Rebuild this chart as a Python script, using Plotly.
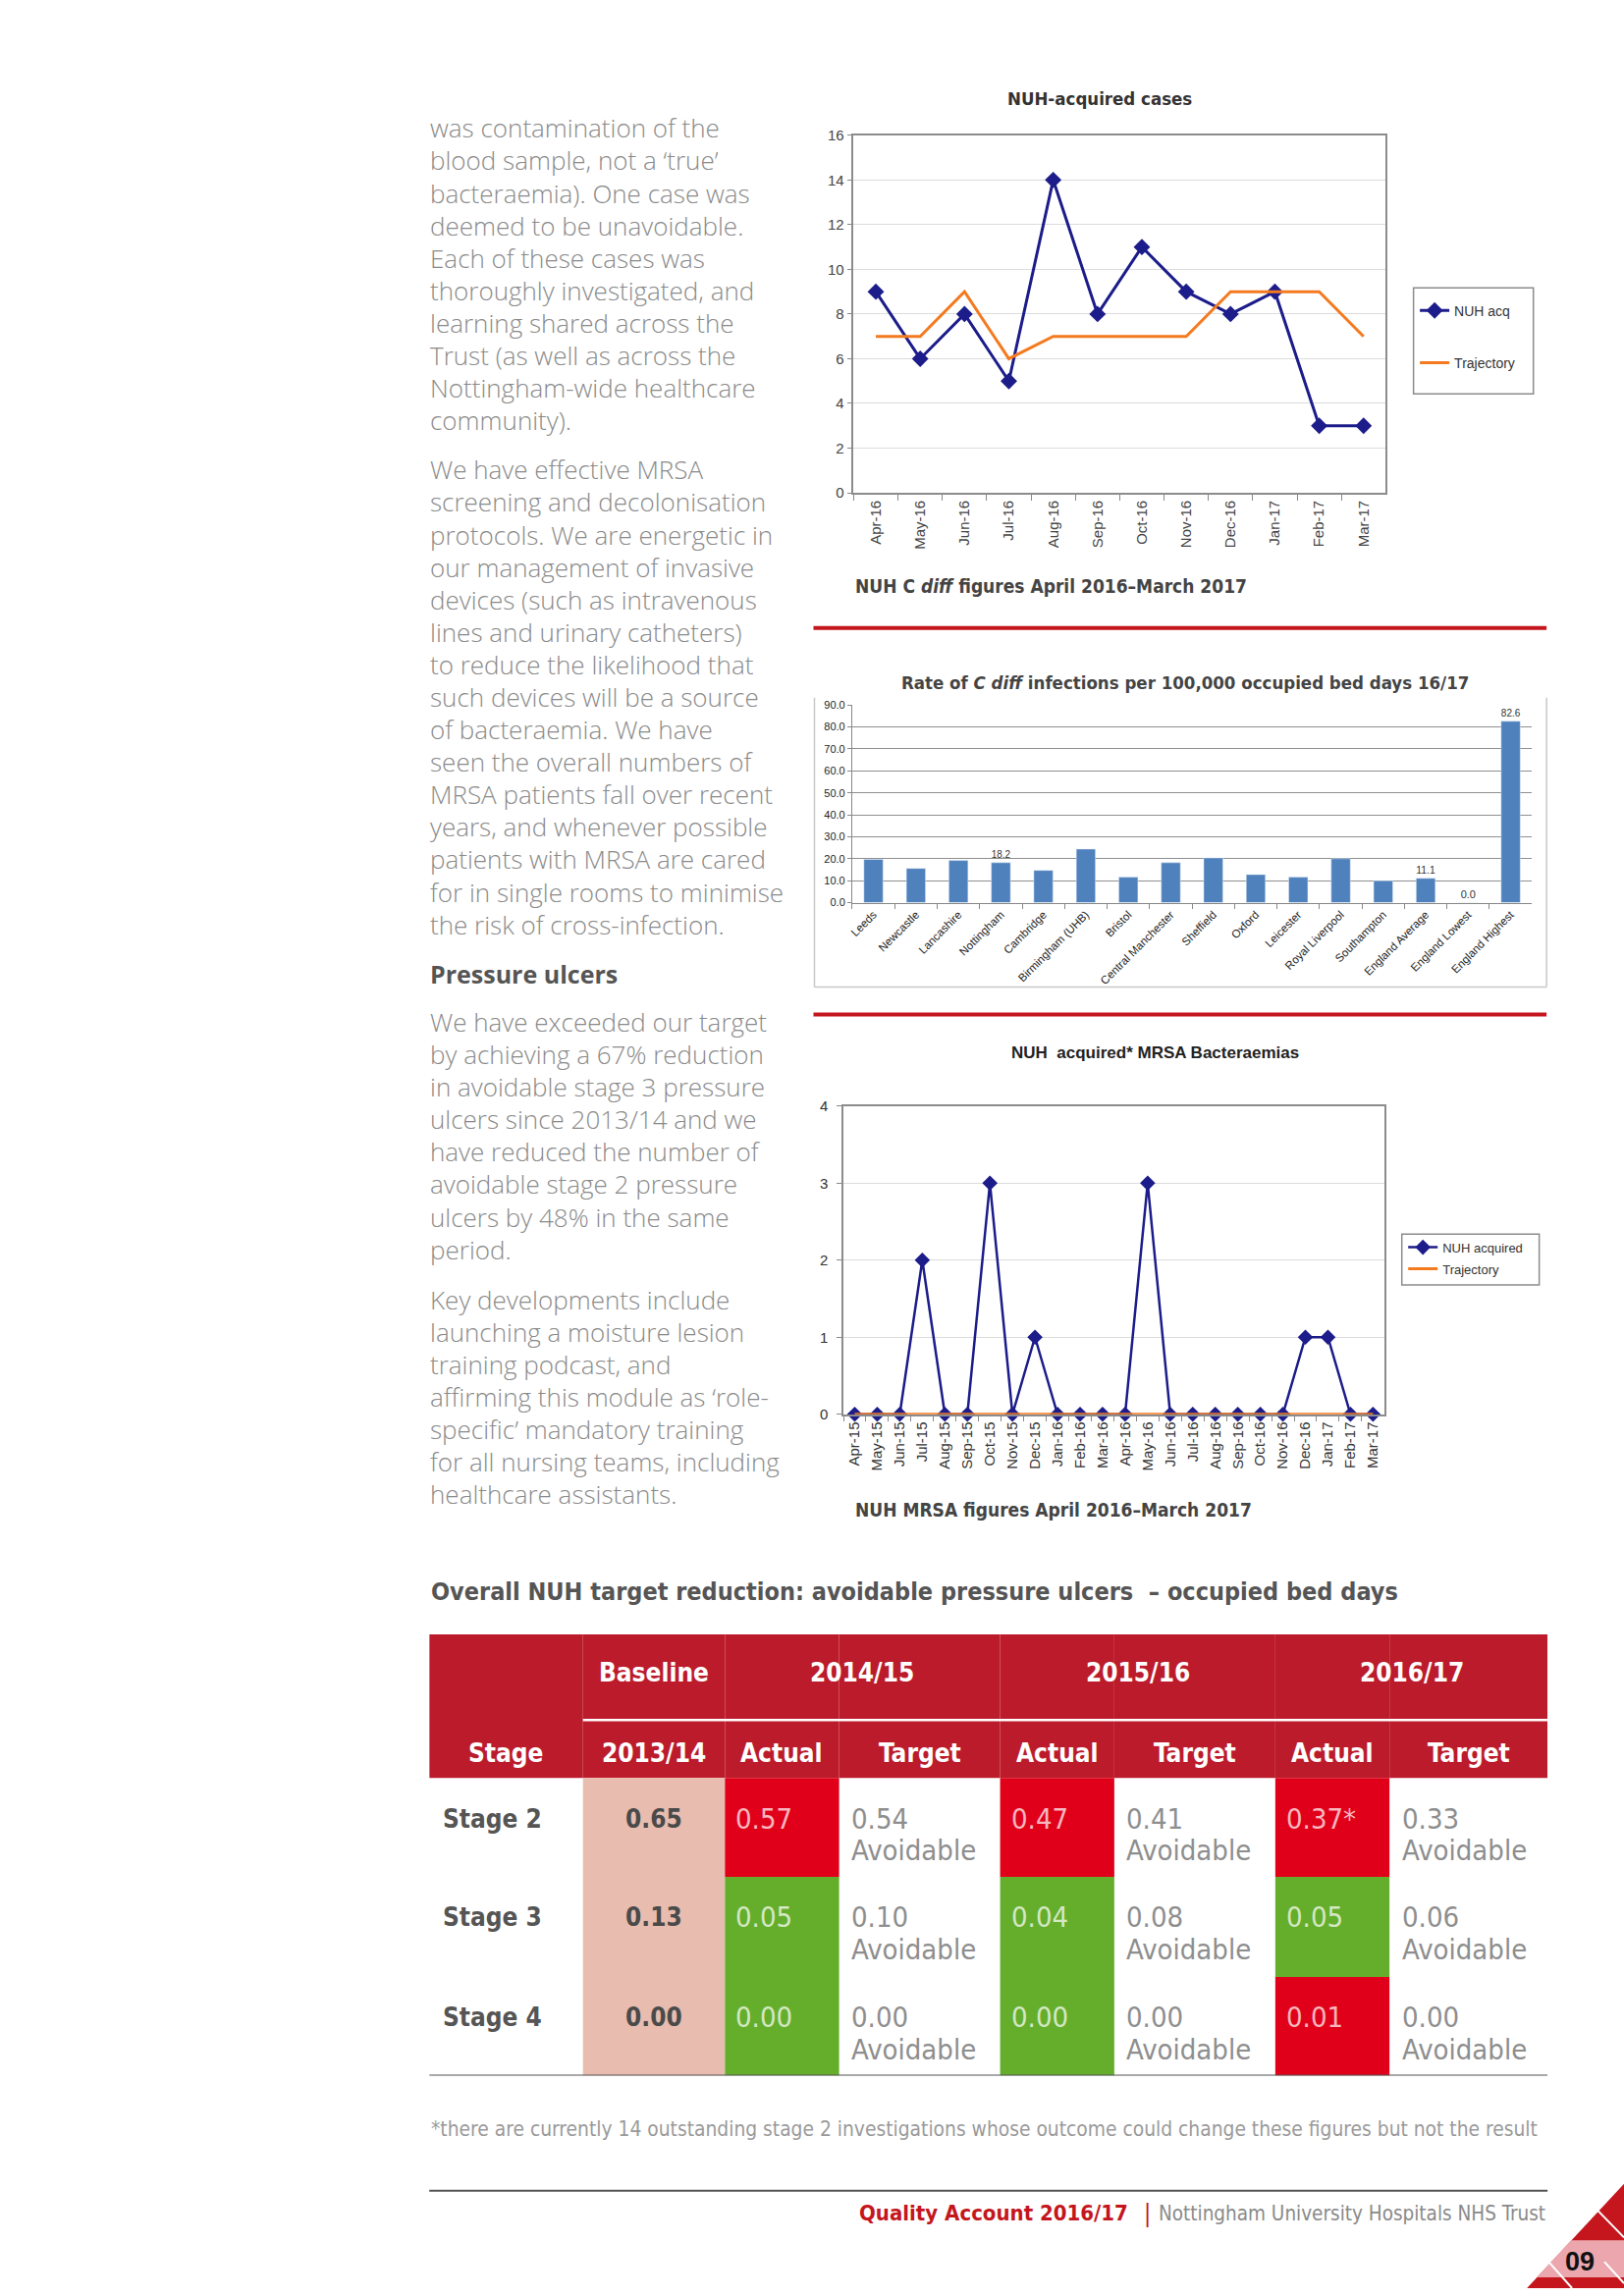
import plotly.graph_objects as go

W, H = 1654, 2339
S = W / 1109.0  # preview-to-page scale used for layout measurements


def px(x):
    return x / W


def py(y):
    return 1 - y / H


# ---------------- DATA ----------------
# Chart 1: NUH C diff
cdiff_months = ["Apr-16", "May-16", "Jun-16", "Jul-16", "Aug-16", "Sep-16",
                "Oct-16", "Nov-16", "Dec-16", "Jan-17", "Feb-17", "Mar-17"]
cdiff_nuh_acq = [9, 6, 8, 5, 14, 8, 11, 9, 8, 9, 3, 3]
cdiff_trajectory = [7, 7, 9, 6, 7, 7, 7, 7, 9, 9, 9, 7]

# Chart 2: C diff rate per 100,000 occupied bed days
trusts = ["Leeds", "Newcastle", "Lancashire", "Nottingham", "Cambridge",
          "Birmingham (UHB)", "Bristol", "Central Manchester", "Sheffield",
          "Oxford", "Leicester", "Royal Liverpool", "Southampton",
          "England Average", "England Lowest", "England Highest"]
rates = [19.7, 15.6, 19.2, 18.2, 14.7, 24.4, 11.6, 18.2, 20.4, 12.8, 11.6,
         20.0, 10.0, 11.1, 0.0, 82.6]
labelled_trusts = ["Nottingham", "England Average", "England Lowest", "England Highest"]

# Chart 3: MRSA bacteraemias
mrsa_months = ["Apr-15", "May-15", "Jun-15", "Jul-15", "Aug-15", "Sep-15",
               "Oct-15", "Nov-15", "Dec-15", "Jan-16", "Feb-16", "Mar-16",
               "Apr-16", "May-16", "Jun-16", "Jul-16", "Aug-16", "Sep-16",
               "Oct-16", "Nov-16", "Dec-16", "Jan-17", "Feb-17", "Mar-17"]
mrsa_nuh_acq = [0, 0, 0, 2, 0, 0, 3, 0, 1, 0, 0, 0,
                0, 3, 0, 0, 0, 0, 0, 0, 1, 1, 0, 0]
mrsa_trajectory = [0, 0, 0, 0, 0, 0, 0, 0, 0, 0, 0, 0,
                   0, 0, 0, 0, 0, 0, 0, 0, 0, 0, 0, 0]

# Table: avoidable pressure ulcers
stages = ["Stage 2", "Stage 3", "Stage 4"]
baseline_1314 = ["0.65", "0.13", "0.00"]
actual_1415 = ["0.57", "0.05", "0.00"]
target_1415 = ["0.54", "0.10", "0.00"]
actual_1516 = ["0.47", "0.04", "0.00"]
target_1516 = ["0.41", "0.08", "0.00"]
actual_1617 = ["0.37*", "0.05", "0.01"]
target_1617 = ["0.33", "0.06", "0.00"]
year_headers = ["2014/15", "2015/16", "2016/17"]

# Left column text
para1 = ["was contamination of the", "blood sample, not a \u2018true\u2019",
         "bacteraemia). One case was", "deemed to be unavoidable.",
         "Each of these cases was", "thoroughly investigated, and",
         "learning shared across the", "Trust (as well as across the",
         "Nottingham-wide healthcare", "community)."]
para2 = ["We have effective MRSA", "screening and decolonisation",
         "protocols. We are energetic in", "our management of invasive",
         "devices (such as intravenous", "lines and urinary catheters)",
         "to reduce the likelihood that", "such devices will be a source",
         "of bacteraemia. We have", "seen the overall numbers of",
         "MRSA patients fall over recent", "years, and whenever possible",
         "patients with MRSA are cared", "for in single rooms to minimise",
         "the risk of cross-infection."]
heading = "Pressure ulcers"
para3 = ["We have exceeded our target", "by achieving a 67% reduction",
         "in avoidable stage 3 pressure", "ulcers since 2013/14 and we",
         "have reduced the number of", "avoidable stage 2 pressure",
         "ulcers by 48% in the same", "period."]
para4 = ["Key developments include", "launching a moisture lesion",
         "training podcast, and", "affirming this module as \u2018role-",
         "specific\u2019 mandatory training", "for all nursing teams, including",
         "healthcare assistants."]

# ---------------- STYLE ----------------
NAVY = "#1c1c8a"
ORANGE = "#f47a20"
BLUE_BAR = "#4f81bd"
HEAD_RED = "#bc1b2b"
ACT_RED = "#e1001a"
ACT_GREEN = "#65ae2c"
BASE_PINK = "#e8bcae"
LINE_RED = "#c4161c"
NARROW = "Liberation Sans Narrow, DejaVu Sans Condensed, Arial Narrow, sans-serif"
ARIAL = "Liberation Sans, Arial, sans-serif"
BODY = "Open Sans, sans-serif"

fig = go.Figure()

# ---------------- CHART 1 ----------------
fig.add_trace(go.Scatter(
    x=cdiff_months, y=cdiff_nuh_acq, name="NUH acq", mode="lines+markers",
    line=dict(color=NAVY, width=3), marker=dict(symbol="diamond", size=13, color=NAVY),
    xaxis="x", yaxis="y", legend="legend", legendgroup="a", cliponaxis=False))
fig.add_trace(go.Scatter(
    x=cdiff_months, y=cdiff_trajectory, name="Trajectory", mode="lines",
    line=dict(color=ORANGE, width=3),
    xaxis="x", yaxis="y", legend="legend", legendgroup="b"))

# ---------------- CHART 2 ----------------
bar_text = [f"{v:.1f}" if t in labelled_trusts else "" for t, v in zip(trusts, rates)]
fig.add_trace(go.Bar(
    x=trusts, y=rates, marker=dict(color=BLUE_BAR), text=bar_text,
    textposition="outside", textfont=dict(family=ARIAL, size=11, color="#333"),
    cliponaxis=False, xaxis="x2", yaxis="y2", showlegend=False, width=0.45))

# ---------------- CHART 3 ----------------
fig.add_trace(go.Scatter(
    x=mrsa_months, y=mrsa_nuh_acq, name="NUH acquired", mode="lines+markers",
    line=dict(color=NAVY, width=2.5), marker=dict(symbol="diamond", size=12, color=NAVY),
    xaxis="x3", yaxis="y3", legend="legend2", legendgroup="c", cliponaxis=False))
fig.add_trace(go.Scatter(
    x=mrsa_months, y=mrsa_trajectory, name="Trajectory", mode="lines",
    line=dict(color=ORANGE, width=3),
    xaxis="x3", yaxis="y3", legend="legend2", legendgroup="d", cliponaxis=False))

# ---------------- TABLE (drawn on x4/y4) ----------------
col_widths = [105, 97, 78, 110, 78, 110, 78, 108]
row_heights = [59, 40, 68, 69, 68]  # header1, header2, body rows
col_left = [sum(col_widths[:i]) for i in range(len(col_widths))]
col_center = [col_left[i] + col_widths[i] / 2 for i in range(len(col_widths))]
row_top = [sum(row_heights[:i]) for i in range(len(row_heights))]
TW = sum(col_widths)
TH = sum(row_heights)
header_h = row_heights[0] + row_heights[1]

fig.add_trace(go.Bar(
    x=col_center, y=[header_h] * len(col_widths), base=[0] * len(col_widths),
    width=col_widths, marker=dict(color=HEAD_RED, line=dict(width=0)),
    xaxis="x4", yaxis="y4", showlegend=False, hoverinfo="skip"))

pairs = [(actual_1415, target_1415), (actual_1516, target_1516), (actual_1617, target_1617)]
cell_x, cell_base, cell_h, cell_w, cell_col = [], [], [], [], []
for r in range(len(stages)):
    top = row_top[2 + r]
    hgt = row_heights[2 + r]
    cell_x.append(col_center[1]); cell_base.append(top); cell_h.append(hgt)
    cell_w.append(col_widths[1]); cell_col.append(BASE_PINK)
    for k, (act, tgt) in enumerate(pairs):
        ci = 2 + 2 * k
        a = float(act[r].rstrip("*"))
        t = float(tgt[r])
        cell_x.append(col_center[ci]); cell_base.append(top); cell_h.append(hgt)
        cell_w.append(col_widths[ci]); cell_col.append(ACT_RED if a > t else ACT_GREEN)
fig.add_trace(go.Bar(
    x=cell_x, y=cell_h, base=cell_base, width=cell_w,
    marker=dict(color=cell_col, line=dict(width=0)),
    xaxis="x4", yaxis="y4", showlegend=False, hoverinfo="skip"))

annotations = []
shapes = []


def table_text(x, y, text, size=26, color="white", bold=False, anchor="center", weight=None):
    f = dict(family=NARROW, size=size, color=color)
    if weight:
        f["weight"] = weight
    annotations.append(dict(
        x=x, y=y, xref="x4", yref="y4", text=f"<b>{text}</b>" if bold else text,
        showarrow=False, xanchor=anchor, yanchor="middle", font=f))


h1y = row_heights[0] * 0.45
h2y = row_heights[0] + row_heights[1] * 0.58
table_text(col_center[1], h1y, "Baseline", bold=True)
for k, yr in enumerate(year_headers):
    ci = 2 + 2 * k
    table_text(col_left[ci] + (col_widths[ci] + col_widths[ci + 1]) / 2, h1y, yr, bold=True)
table_text(col_center[0], h2y, "Stage", bold=True)
table_text(col_center[1], h2y, "2013/14", bold=True)
for k in range(3):
    table_text(col_center[2 + 2 * k], h2y, "Actual", bold=True)
    table_text(col_center[3 + 2 * k], h2y, "Target", bold=True)

for r, st in enumerate(stages):
    top = row_top[2 + r]
    y1 = top + 28
    y2 = top + 50
    table_text(8, y1, st, color="#555555", bold=True, anchor="left")
    table_text(col_center[1], y1, baseline_1314[r], color="#4a4a4a", bold=True)
    for k, (act, tgt) in enumerate(pairs):
        ci = 2 + 2 * k
        table_text(col_left[ci] + 6, y1, act[r], size=29, color="rgba(255,255,255,0.72)",
                   anchor="left", weight=300)
        table_text(col_left[ci + 1] + 7, y1, tgt[r], size=29, color="#8e8e8e", anchor="left", weight=300)
        table_text(col_left[ci + 1] + 7, y2, "Avoidable", size=29, color="#8e8e8e", anchor="left", weight=300)

shapes.append(dict(type="line", xref="x4", yref="y4", x0=col_left[1], x1=TW,
                   y0=row_heights[0], y1=row_heights[0], line=dict(color="white", width=2.5)))
shapes.append(dict(type="line", xref="x4", yref="y4", x0=0, x1=TW,
                   y0=TH, y1=TH, line=dict(color="#555555", width=2)))


# ---------------- PAGE TEXT ----------------
def page_text(x, y, text, size, color, family=BODY, anchor="left", weight=None, yanchor="middle"):
    f = dict(family=family, size=size, color=color)
    if weight:
        f["weight"] = weight
    annotations.append(dict(x=px(x), y=py(y), xref="paper", yref="paper", text=text,
                            showarrow=False, xanchor=anchor, yanchor=yanchor, font=f))


step = 22.35 * S
LX = 434
for start, lines in [(82, para1), (317, para2), (697, para3), (888, para4)]:
    for i, ln in enumerate(lines):
        page_text(LX, start * S + i * step, ln, 26, "#8a8a8a", weight=300)
page_text(LX, 664 * S, f"<b>{heading}</b>", 25, "#555555")

# chart titles/captions
page_text(750 * S, 62 * S, "<b>NUH-acquired cases</b>", 18.5, "#333333", family=NARROW, anchor="center")
page_text(582 * S, 397 * S, "<b>NUH C <i>diff</i> figures April 2016\u2013March 2017</b>", 19, "#444444", family=NARROW)
page_text(809 * S, 464 * S, "<b>Rate of <i>C diff</i> infections per 100,000 occupied bed days 16/17</b>", 18.5,
          "#444444", family=NARROW, anchor="center")
page_text(788 * S, 718 * S, "<b>NUH  acquired* MRSA Bacteraemias</b>", 17, "#222222", family=ARIAL, anchor="center")
page_text(582 * S, 1033 * S, "<b>NUH MRSA figures April 2016\u2013March 2017</b>", 19, "#444444", family=NARROW)
page_text(435, 1089 * S,
          "<b>Overall NUH target reduction: avoidable pressure ulcers  \u2013 occupied bed days</b>",
          25, "#555555", family=NARROW)
page_text(435, 1459 * S,
          "*there are currently 14 outstanding stage 2 investigations whose outcome could change these figures but not the result",
          20.8, "#9a9a9a", family=NARROW)
# footer
page_text(1576, 2262, "Nottingham University Hospitals NHS Trust", 20.5, "#8a8a8a", family=NARROW, anchor="right")
page_text(783 * S, 2262, "|", 24, LINE_RED, family=NARROW, anchor="center")
page_text(771 * S, 2262, "<b>Quality Account 2016/17</b>", 22, LINE_RED, family=NARROW, anchor="right")

# red separators
for yy in (426, 692):
    shapes.append(dict(type="line", xref="paper", yref="paper", x0=px(827), x1=px(1575),
                       y0=py(yy * S), y1=py(yy * S), line=dict(color=LINE_RED, width=4)))
# bar chart frame (no top edge)
bx0, bx1, by0, by1 = px(828), px(1575), py(474 * S), py(673 * S)
for (a, b, c, d) in [(bx0, bx0, by0, by1), (bx0, bx1, by1, by1), (bx1, bx1, by0, by1)]:
    shapes.append(dict(type="line", xref="paper", yref="paper", x0=a, x1=b, y0=c, y1=d,
                       line=dict(color="#c8c8c8", width=1.5)))
# legend frames
for (x0, y0, x1, y1) in [(965, 192, 1047, 265), (957, 843, 1051, 878)]:
    shapes.append(dict(type="rect", xref="paper", yref="paper", x0=px(x0 * S), x1=px(x1 * S),
                       y0=py(y0 * S), y1=py(y1 * S), line=dict(color="#8c8c8c", width=1.5),
                       fillcolor="rgba(0,0,0,0)", layer="above"))
# footer rule
shapes.append(dict(type="line", xref="paper", yref="paper", x0=px(435), x1=px(1576),
                   y0=py(2239), y1=py(2239), line=dict(color="#555555", width=2)))


# page corner decoration
def ppath(points):
    return "M " + " L ".join(f"{px(x)},{py(y)}" for x, y in points) + " Z"


shapes.append(dict(type="path", xref="paper", yref="paper", layer="above",
                   path=ppath([(1555, 2339), (1654, 2232), (1654, 2339)]),
                   fillcolor="#c4161c", line=dict(width=0)))
shapes.append(dict(type="path", xref="paper", yref="paper", layer="above",
                   path=ppath([(1600, 2290), (1654, 2290), (1654, 2328), (1565, 2328)]),
                   fillcolor="#eba7ad", line=dict(width=0)))
for (x0, y0, x1, y1) in [(1626, 2258, 1654, 2287), (1578, 2313, 1601, 2339), (1634, 2312, 1654, 2334)]:
    shapes.append(dict(type="line", xref="paper", yref="paper", layer="above",
                       x0=px(x0), y0=py(y0), x1=px(x1), y1=py(y1),
                       line=dict(color="white", width=2)))
page_text(1609, 2312, "<b>09</b>", 27, "#111111", family=ARIAL, anchor="center")

# ---------------- LAYOUT ----------------
axis_font = dict(family=ARIAL, size=15, color="#444444")
fig.update_layout(
    width=W, height=H, margin=dict(l=0, r=0, t=0, b=0),
    paper_bgcolor="white", plot_bgcolor="white", barmode="overlay",
    showlegend=True, hovermode=False,
    xaxis=dict(domain=[px(582 * S), px(946 * S)], anchor="y", type="category",
               range=[-0.5, len(cdiff_months) - 0.5],
               tickson="boundaries", ticks="outside", ticklen=6, tickcolor="#888",
               tickangle=-90, tickfont=axis_font, showline=True, linecolor="#8c8c8c",
               linewidth=1.5, mirror=True, showgrid=False),
    yaxis=dict(domain=[py(333 * S), py(87 * S)], anchor="x", range=[0, 16], dtick=2,
               ticks="outside", ticklen=5, tickcolor="#888", tickfont=axis_font,
               showline=True, linecolor="#8c8c8c", linewidth=1.5, mirror=True,
               gridcolor="#dcdcdc", zeroline=False),
    xaxis2=dict(domain=[px(581 * S), px(1046 * S)], anchor="y2", type="category",
                range=[-0.5, len(trusts) - 0.5],
                tickson="boundaries", ticks="outside", ticklen=5, tickcolor="#888",
                tickangle=-45, tickfont=dict(family=ARIAL, size=11.5, color="#222"),
                showline=True, linecolor="#888", showgrid=False),
    yaxis2=dict(domain=[py(615 * S), py(479 * S)], anchor="x2", range=[0, 90], dtick=10,
                tickformat=".1f", ticks="outside", ticklen=4, tickcolor="#888",
                tickfont=dict(family=ARIAL, size=11, color="#222"),
                showline=True, linecolor="#888", gridcolor="#8f8f8f", zeroline=False),
    xaxis3=dict(domain=[px(575 * S), px(945 * S)], anchor="y3", type="category",
                range=[-0.5, len(mrsa_months) - 0.5],
                tickson="boundaries", ticks="outside", ticklen=6, tickcolor="#888",
                tickangle=-90, tickfont=dict(family=ARIAL, size=15, color="#333"),
                showline=True, linecolor="#8c8c8c", linewidth=1.5, mirror=True, showgrid=False),
    yaxis3=dict(domain=[py(967 * S), py(755 * S)], anchor="x3", range=[0, 4], dtick=1,
                ticks="outside", ticklen=5, tickcolor="#888", ticklabelstandoff=6,
                tickfont=dict(family=ARIAL, size=15, color="#333"),
                showline=True, linecolor="#8c8c8c", linewidth=1.5, mirror=True,
                gridcolor="#dcdcdc", zeroline=False),
    xaxis4=dict(domain=[px(435), px(1576)], anchor="y4", range=[0, TW], visible=False),
    yaxis4=dict(domain=[py(2121), py(1668)], anchor="x4", range=[TH, 0], visible=False),
    legend=dict(x=px(966 * S), y=py(197 * S), xanchor="left", yanchor="top",
                bgcolor="rgba(0,0,0,0)", borderwidth=0,
                font=dict(family=ARIAL, size=14, color="#333"), tracegroupgap=32,
                itemwidth=30),
    legend2=dict(x=px(958 * S), y=py(842 * S), xanchor="left", yanchor="top",
                 bgcolor="rgba(0,0,0,0)", borderwidth=0,
                 font=dict(family=ARIAL, size=13, color="#333"), tracegroupgap=2,
                 itemwidth=30),
    annotations=annotations, shapes=shapes,
)

# place the figure flush with the page corner (no default body margin), no toolbar
fig.write_html("out.html", config={"displayModeBar": False},
               post_script="document.body.style.margin='0';document.body.style.padding='0';")
